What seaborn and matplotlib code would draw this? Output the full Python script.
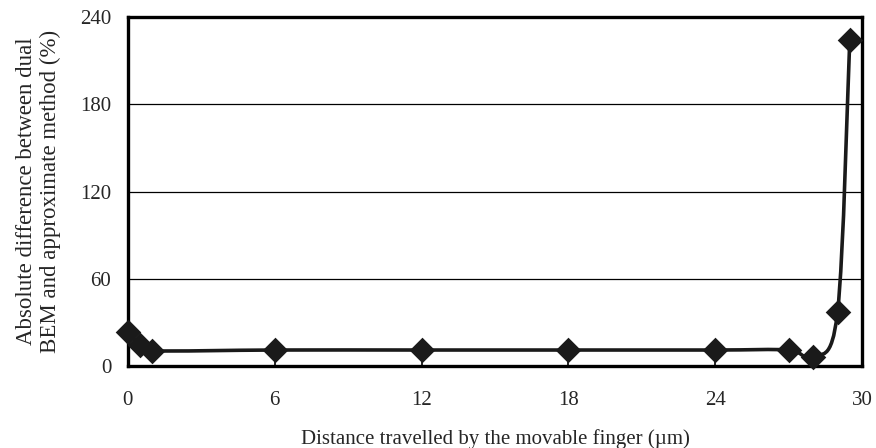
import numpy as np
import pandas as pd
import seaborn as sns
import matplotlib
matplotlib.use("Agg")
import matplotlib.pyplot as plt
from matplotlib.path import Path
from matplotlib.patches import PathPatch

distance = [0, 0.5, 1, 6, 12, 18, 24, 27, 28, 29, 29.5]
difference = [23.5, 14.5, 10.5, 11, 11, 11, 11, 11, 6, 37, 224]
x_ticks = [0, 6, 12, 18, 24, 30]
y_ticks = [0, 60, 120, 180, 240]

sns.set_theme(style="white")
plt.rcParams['font.family'] = ['Liberation Serif', 'DejaVu Serif']

df = pd.DataFrame({"distance": distance, "difference": difference})

fig = plt.figure(figsize=(8.76, 4.48), dpi=100)
ax = fig.add_axes([0.146, 0.183, 0.838, 0.779])

# smooth curve (Catmull-Rom style Bezier, like spreadsheet smoothing)
pts = np.column_stack([df["distance"].values, df["difference"].values])
verts = [tuple(pts[0])]
codes = [Path.MOVETO]
n = len(pts)
for i in range(n - 1):
    p0 = pts[i - 1] if i > 0 else pts[i]
    p1 = pts[i]
    p2 = pts[i + 1]
    p3 = pts[i + 2] if i + 2 < n else pts[i + 1]
    c1 = p1 + (p2 - p0) / 6.0
    c2 = p2 - (p3 - p1) / 6.0
    verts += [tuple(c1), tuple(c2), tuple(p2)]
    codes += [Path.CURVE4] * 3
ax.add_patch(PathPatch(Path(verts, codes), facecolor="none", edgecolor="#1a1a1a",
                       lw=2.6, zorder=3))

sns.scatterplot(data=df, x="distance", y="difference", marker="D", s=170,
                color="#1a1a1a", edgecolor="#1a1a1a", linewidth=0, ax=ax, zorder=4,
                clip_on=False)

ax.set_xlim(0, 30)
ax.set_ylim(0, 240)
ax.set_xticks(x_ticks)
ax.set_yticks(y_ticks)
ax.set_xticklabels([str(v) for v in x_ticks], fontsize=15)
ax.set_yticklabels([str(v) for v in y_ticks], fontsize=15)
for y in y_ticks[1:-1]:
    ax.axhline(y, color="black", lw=0.9, zorder=1)
ax.tick_params(axis="x", direction="in", length=7, width=1.2, color="black",
               pad=18, bottom=True)
ax.tick_params(axis="y", length=0, pad=12)
for s in ax.spines.values():
    s.set_color("black")
    s.set_linewidth(2.4)
ax.set_xlabel("Distance travelled by the movable finger (\u00b5m)", fontsize=15, labelpad=14)
ax.set_ylabel("Absolute difference between dual\nBEM and approximate method (%)",
              fontsize=16.5, labelpad=14, linespacing=1.15)
ax.grid(False)

fig.savefig("out.png", dpi=100)
